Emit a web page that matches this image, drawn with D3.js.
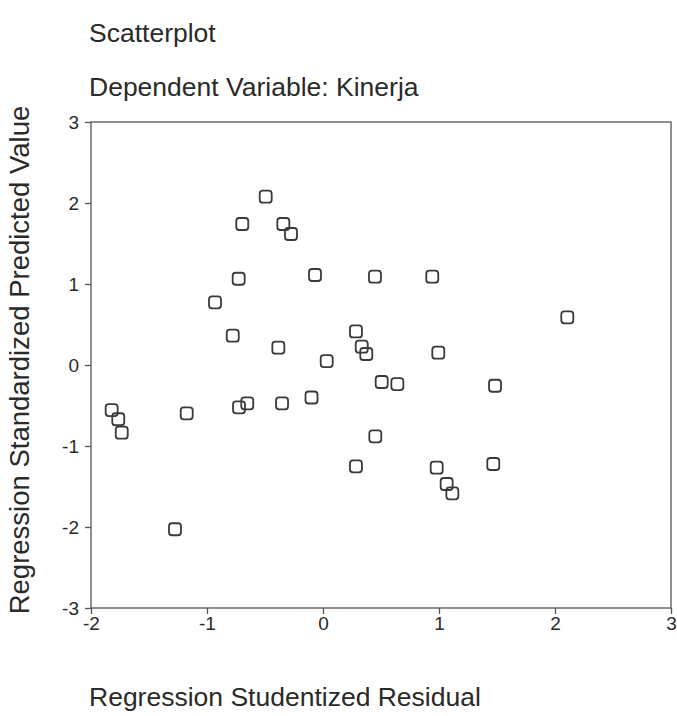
<!DOCTYPE html>
<html>
<head>
<meta charset="utf-8">
<script src="https://cdn.jsdelivr.net/npm/d3@7"></script>
<style>
  html, body { margin: 0; padding: 0; background: #fff; }
  svg { display: block; font-family: "Liberation Sans", Arial, sans-serif; }
</style>
</head>
<body>
<svg id="chart" width="677" height="716"></svg>
<script>
// Regression Studentized Residual (x) vs Regression Standardized Predicted Value (y)
const residuals = [
  -0.494, -0.696, -0.342, -0.276, -0.727, -0.069, 0.448, 0.942, -0.931, 2.106,
  -0.778, -0.385, 0.284, 0.334, 0.373, 0.032, 0.994, -1.822, -1.765, -1.735,
  -1.175, -0.724, -0.653, -0.353, -0.099, 0.506, 0.641, 1.483, 0.451, 0.284,
  0.980, 1.066, 1.115, 1.468, -1.276
];
const predicted = [
  2.078, 1.741, 1.741, 1.617, 1.065, 1.111, 1.090, 1.090, 0.774, 0.589,
  0.362, 0.214, 0.414, 0.226, 0.136, 0.049, 0.152, -0.556, -0.670, -0.836,
  -0.596, -0.522, -0.473, -0.473, -0.401, -0.210, -0.235, -0.256, -0.880, -1.251,
  -1.268, -1.469, -1.584, -1.222, -2.028
];
const xTicks = [-2, -1, 0, 1, 2, 3];
const yTicks = [-3, -2, -1, 0, 1, 2, 3];

const titleText = "Scatterplot";
const subtitleText = "Dependent Variable: Kinerja";
const xLabel = "Regression Studentized Residual";
const yLabel = "Regression Standardized Predicted Value";

const svg = d3.select("#chart");
const plot = { left: 91, right: 671, top: 122, bottom: 608 };
const ink = "#2a2a2a";

const x = d3.scaleLinear().domain([-2, 3]).range([plot.left, plot.right]);
const y = d3.scaleLinear().domain([-3, 3]).range([plot.bottom, plot.top]);

// plain hyphen for negative tick values
const fmt = d => String(d);

// titles
svg.append("text").attr("x", 89).attr("y", 42)
  .attr("font-size", 26.5).attr("fill", ink).text(titleText);
svg.append("text").attr("x", 89).attr("y", 96)
  .attr("font-size", 26.5).attr("fill", ink).text(subtitleText);

// plot frame
svg.append("rect")
  .attr("x", plot.left).attr("y", plot.top)
  .attr("width", plot.right - plot.left).attr("height", plot.bottom - plot.top)
  .attr("fill", "none").attr("stroke", "#555").attr("stroke-width", 1.3);

// axes
const xAxis = svg.append("g")
  .attr("transform", `translate(0,${plot.bottom})`)
  .call(d3.axisBottom(x).tickValues(xTicks).tickSize(6).tickPadding(3).tickFormat(fmt));
const yAxis = svg.append("g")
  .attr("transform", `translate(${plot.left},0)`)
  .call(d3.axisLeft(y).tickValues(yTicks).tickSize(6).tickPadding(6).tickFormat(fmt));

[xAxis, yAxis].forEach(g => {
  g.select(".domain").remove();
  g.selectAll(".tick line").attr("stroke", "#555").attr("stroke-width", 1.3);
  g.selectAll(".tick text")
    .attr("font-family", "'Liberation Sans', Arial, sans-serif")
    .attr("font-size", 19).attr("fill", ink);
});
yAxis.selectAll(".tick text").attr("dy", "0.35em");

// axis titles
svg.append("text").attr("x", 89).attr("y", 706)
  .attr("font-size", 26.5).attr("fill", ink).text(xLabel);
svg.append("text")
  .attr("transform", `translate(29,${(plot.top + plot.bottom) / 2 - 5}) rotate(-90)`)
  .attr("text-anchor", "middle")
  .attr("font-size", 27.5).attr("fill", ink).text(yLabel);

// points: hollow rounded squares
const s = 12;
svg.append("g").selectAll("rect")
  .data(d3.range(residuals.length))
  .join("rect")
  .attr("x", i => x(residuals[i]) - s / 2)
  .attr("y", i => y(predicted[i]) - s / 2)
  .attr("width", s).attr("height", s)
  .attr("rx", 3).attr("ry", 3)
  .attr("fill", "none")
  .attr("stroke", "#3a3a3a")
  .attr("stroke-width", 1.8);
</script>
</body>
</html>
